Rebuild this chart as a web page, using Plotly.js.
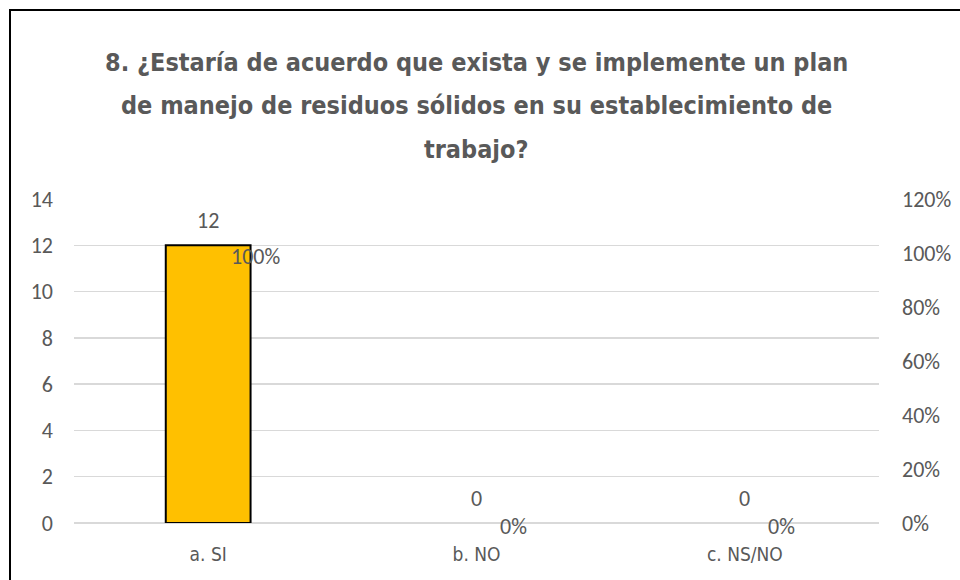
<!DOCTYPE html>
<html><head><meta charset="utf-8">
<script src="https://cdn.plot.ly/plotly-3.0.1.min.js"></script>
<style>
html,body{margin:0;padding:0;background:#fff;}
#wrap{position:relative;width:960px;height:580px;overflow:hidden;}
#chart{position:absolute;left:0;top:0;width:960px;height:580px;}
#frame{position:absolute;left:9px;top:9px;width:980px;height:600px;border:2px solid #000;pointer-events:none;}
</style></head>
<body>
<div id="wrap"><div id="chart"></div><div id="frame"></div></div>
<script>
const categories = ["a. SI", "b. NO", "c. NS/NO"];
const counts = [12, 0, 0];
const percents = [1.0, 0, 0];
const countLabels = ["12", "0", "0"];
const percentLabels = ["100%", "0%", "0%"];
const titleLines = [
  "8. ¿Estaría de acuerdo que exista y se implemente un plan",
  "de manejo de residuos sólidos en su establecimiento de",
  "trabajo?"
];

const gray = "#595959";
const tickFont = {family: "Carlito, Calibri, 'Liberation Sans', Arial, sans-serif", size: 22, color: gray};
const condFont = "'DejaVu Sans Condensed', 'DejaVu Sans', sans-serif";

const traces = [
  {
    type: "bar", x: categories, y: counts, width: 0.316,
    marker: {color: "#FFC000", line: {color: "#000", width: counts.map(v => v > 0 ? 2 : 0)}},
    hoverinfo: "skip", showlegend: false
  },
  {
    type: "scatter", mode: "lines", x: categories, y: percents, yaxis: "y2",
    line: {color: "rgba(0,0,0,0)", width: 0}, hoverinfo: "skip", showlegend: false
  }
];

const annotations = [];
const titleShifts = [137, 94, 50];
titleLines.forEach((t, i) => {
  annotations.push({x: 0.5, y: 1, xref: "paper", yref: "paper", text: "<b>" + t + "</b>",
    showarrow: false, xanchor: "center", yanchor: "middle", yshift: titleShifts[i],
    font: {family: condFont, size: 25, color: gray}});
});
categories.forEach((c, i) => {
  annotations.push({x: c, y: counts[i], xref: "x", yref: "y", text: countLabels[i],
    showarrow: false, yanchor: "middle", yshift: 25, font: tickFont});
  annotations.push({x: c, y: percents[i], xref: "x", yref: "y2", text: percentLabels[i],
    showarrow: false, xanchor: "left", yanchor: "middle", xshift: 21, yshift: -3, font: tickFont});
});

const layout = {
  width: 960, height: 580,
  margin: {l: 74, r: 81, t: 199, b: 57},
  paper_bgcolor: "#fff", plot_bgcolor: "#fff",
  xaxis: {
    type: "category", showgrid: false, zeroline: false, showline: false,
    ticks: "", tickfont: {family: condFont, size: 19, color: gray}, ticklabelstandoff: 18
  },
  yaxis: {
    range: [0, 14], dtick: 2, showgrid: true, gridcolor: "#d9d9d9", gridwidth: 1.5,
    zeroline: true, zerolinecolor: "#d9d9d9", zerolinewidth: 1.5,
    showline: false, ticks: "", tickfont: tickFont, ticklabelstandoff: 20
  },
  yaxis2: {
    overlaying: "y", side: "right", range: [0, 1.2], dtick: 0.2, tickformat: ".0%",
    showgrid: false, zeroline: false, showline: false, ticks: "", tickfont: tickFont,
    ticklabelstandoff: 22
  },
  annotations: annotations,
  bargap: 0
};

Plotly.newPlot("chart", traces, layout, {displayModeBar: false, staticPlot: true});
</script>
</body></html>
